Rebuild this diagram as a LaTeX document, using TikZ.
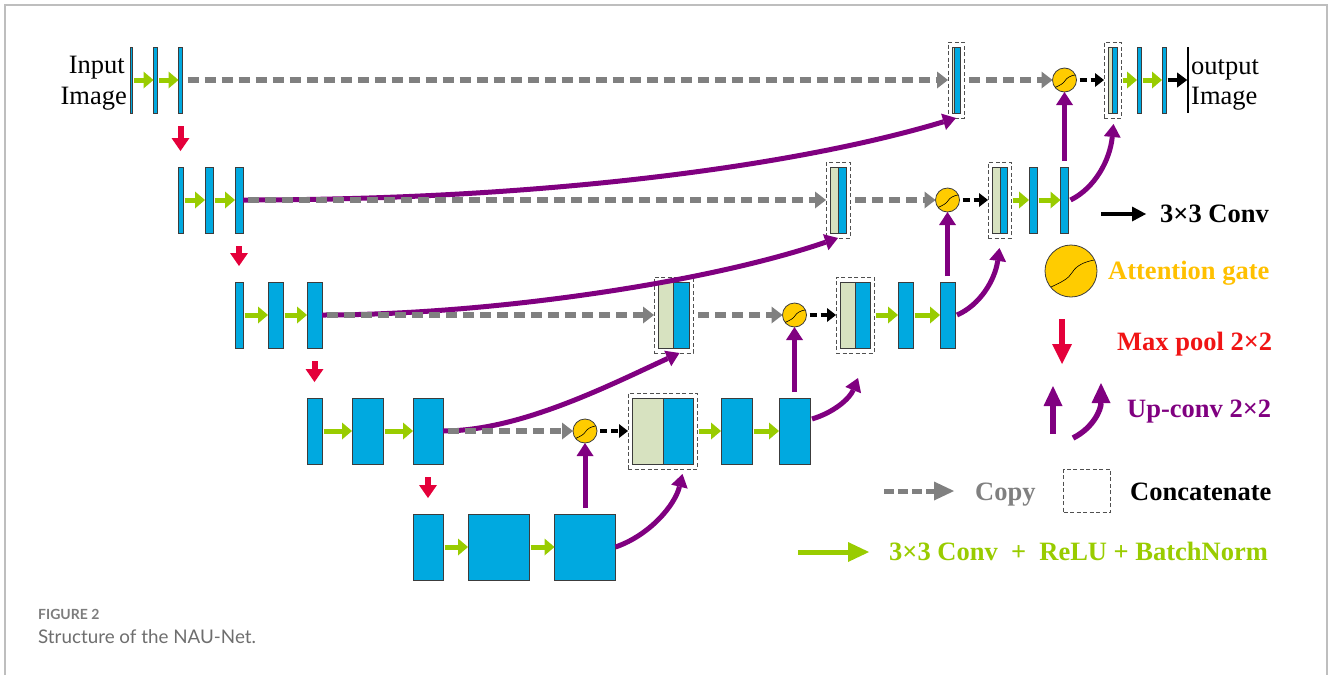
\documentclass[tikz,border=0pt]{standalone}
\usepackage{fontspec}
\setmainfont{Liberation Serif}
\newfontfamily\capfont{Lato}
\usetikzlibrary{arrows.meta,calc}
\definecolor{ublue}{RGB}{0,169,224}
\definecolor{lgreen}{RGB}{215,226,192}
\definecolor{blkline}{RGB}{60,60,60}
\definecolor{agreen}{RGB}{153,204,0}
\definecolor{agrey}{RGB}{128,128,128}
\definecolor{apurple}{RGB}{128,0,128}
\definecolor{ared}{RGB}{228,0,58}
\definecolor{tred}{RGB}{240,20,20}
\definecolor{gatey}{RGB}{255,204,0}
\definecolor{goldt}{RGB}{255,192,0}
\definecolor{dashc}{RGB}{80,80,80}
\definecolor{framec}{RGB}{190,190,190}
\definecolor{capg}{RGB}{125,125,125}
\definecolor{capg2}{RGB}{110,110,110}
\newcommand\concatblk[5]{%
  \node[catbox, minimum width={#4-#2+8}] (#1) at ({(#2+#4)/2},#5) {};
  \draw[catpart, fill=lgreen] (#2,#5-33) rectangle (#3,#5+33);
  \draw[catpart, fill=ublue] (#3,#5-33) rectangle (#4,#5+33);
}
\newcommand\attgate[4]{%
  \node[gatec, minimum size=2*#4] (#1) at (#2,#3) {};
  \draw[line width=0.6pt] ($(#1)+(-0.78*#4,0.62*#4)$) .. controls ($(#1)+(-0.35*#4,0.42*#4)$) and ($(#1)+(-0.1*#4,0.3*#4)$) .. ($(#1)+(0.05*#4,0.05*#4)$) .. controls ($(#1)+(0.2*#4,-0.2*#4)$) and ($(#1)+(0.5*#4,-0.35*#4)$) .. ($(#1)+(0.88*#4,-0.42*#4)$);
}
\begin{document}
\begin{tikzpicture}[x=1pt,y=-1pt,
  blk/.style={draw=blkline, fill=ublue, line width=0.9pt, inner sep=0pt, outer sep=0pt, minimum height=66},
  catbox/.style={draw=dashc, dash pattern=on 4pt off 2.5pt, line width=0.9pt, inner sep=0pt, outer sep=0pt, minimum height=76},
  catpart/.style={draw=blkline, line width=0.9pt},
  gatec/.style={circle, draw=blkline, fill=gatey, line width=0.8pt, inner sep=0pt, outer sep=0pt},
  garr/.style={draw=agreen, line width=5pt, -{Triangle[length=10pt,width=17pt,line width=0pt]}, shorten <=1.5pt},
  grarr/.style={draw=agrey, line width=5.5pt, dash pattern=on 11pt off 6pt, -{Triangle[length=11pt,width=17pt,line width=0pt]}},
  karr/.style={draw=black, line width=4pt, dash pattern=on 7pt off 4pt, -{Triangle[length=9pt,width=14pt,line width=0pt]}},
  parr/.style={draw=apurple, line width=5pt, -{Triangle[length=13pt,width=17pt,line width=0pt]}},
  parrL/.style={draw=apurple, line width=5.5pt, -{Triangle[length=20pt,width=19pt,line width=0pt]}},
  rarr/.style={draw=ared, line width=6pt, -{Triangle[length=13pt,width=18pt,line width=0pt]}},
  ltxt/.style={inner sep=0pt, font=\bfseries\fontsize{26.5}{30}\selectfont},
  txt/.style={inner sep=0pt, font=\fontsize{26.5}{30}\selectfont}]
\useasboundingbox (0,0) rectangle (1330,675);
\draw[framec, line width=1.5pt] (5,675) -- (5,5) -- (1327,5) -- (1327,675);

% encoder blocks
\node[blk, minimum width=2.5] (L1a) at (131.5,80) {};
\node[blk, minimum width=4] (L1b) at (155.5,80) {};
\node[blk, minimum width=4] (L1c) at (180.5,80) {};
\node[blk, minimum width=5] (L2a) at (180.5,200) {};
\node[blk, minimum width=8] (L2b) at (209,200) {};
\node[blk, minimum width=8] (L2c) at (239,200) {};
\node[blk, minimum width=8] (L3a) at (239,315) {};
\node[blk, minimum width=15] (L3b) at (275.5,315) {};
\node[blk, minimum width=15] (L3c) at (314.5,315) {};
\node[blk, minimum width=15] (L4a) at (314.5,431) {};
\node[blk, minimum width=31] (L4b) at (367.5,431) {};
\node[blk, minimum width=30] (L4c) at (428,431) {};
\node[blk, minimum width=30] (L5a) at (428,547) {};
\node[blk, minimum width=61] (L5b) at (498.5,547) {};
\node[blk, minimum width=61] (L5c) at (585,547) {};

% decoder
\concatblk{C4}{632}{663}{693}{431}
\node[blk, minimum width=31] (D4a) at (736.5,431) {};
\node[blk, minimum width=31] (D4b) at (794.5,431) {};
\attgate{G4}{585}{431}{12}
\concatblk{S3}{658}{673}{689}{315}
\attgate{G3}{794.5}{315}{12}
\concatblk{C3}{840}{855}{870}{315}
\node[blk, minimum width=15] (D3a) at (905.5,315) {};
\node[blk, minimum width=15] (D3b) at (947.5,315) {};
\concatblk{S2}{830}{838}{846}{200}
\attgate{G2}{947.5}{200}{12}
\concatblk{C2}{992}{1000}{1007}{200}
\node[blk, minimum width=8] (D2a) at (1033,200) {};
\node[blk, minimum width=8] (D2b) at (1064.5,200) {};
\concatblk{S1}{952}{954.5}{960}{80}
\attgate{G1}{1064.5}{80}{12}
\concatblk{C1}{1108}{1112.5}{1117}{80}
\node[blk, minimum width=4] (D1a) at (1139,80) {};
\node[blk, minimum width=4] (D1b) at (1164,80) {};
\node[fill=black, inner sep=0pt, outer sep=0pt, minimum width=1.6, minimum height=66] (OUT) at (1188,80) {};

% purple skip curves
\draw[parr] (L2c.east) .. controls (550,200) and (800,165) .. (S1.south);
\draw[parr] (L3c.east) .. controls (480,315) and (700,285) .. (S2.south);
\draw[parr] (L4c.east) .. controls (520,431) and (610,385) .. ($(S3.south)+(6,0)$);
\draw[parr] (L5c.east) .. controls (650,535) and (675,505) .. ($(C4.south)+(20,5)$);
\draw[parr] ($(D4b.east)+(2,-12)$) .. controls (835,412) and (850,398) .. ($(C3.south)+(3,25)$);
\draw[parr] ($(D3b.east)+(2,0)$) .. controls (980,305) and (995,280) .. ($(C2.south)+(0,10)$);
\draw[parr] ($(D2b.east)+(2,0)$) .. controls (1095,188) and (1110,160) .. ($(C1.south)+(1,6)$);
\foreach \a/\b in {L5c/G4, D4b/G3, D3b/G2, D2b/G1}
  \draw[parr, shorten <=6pt] (\a.north) -- (\b.south);

% grey copies
\foreach \a/\b in {L1c/S1, S1/G1, L2c/S2, S2/G2, L3c/S3, S3/G3, L4c/G4}
  \draw[grarr, shorten <=5pt] (\a.east) -- (\b.west);
% black dashed
\foreach \a/\b in {G4/C4, G3/C3, G2/C2, G1/C1}
  \draw[karr, shorten <=3pt] (\a.east) -- (\b.west);
% green
\foreach \a/\b in {L1a/L1b, L1b/L1c, L2a/L2b, L2b/L2c, L3a/L3b, L3b/L3c, L4a/L4b, L4b/L4c, L5a/L5b, L5b/L5c, C4/D4a, D4a/D4b, C3/D3a, D3a/D3b, C2/D2a, D2a/D2b, C1/D1a, D1a/D1b}
  \draw[garr] (\a.east) -- (\b.west);
\draw[draw=black, line width=4pt, -{Triangle[length=10pt,width=15pt,line width=0pt]}, shorten <=1.5pt] (D1b.east) -- (OUT.west);
% red
\foreach \a/\b in {L1c/L2a, L2c/L3a, L3c/L4a, L4c/L5a}
  \draw[rarr, shorten <=13pt, shorten >=16pt] (\a.south) -- (\b.north);

% texts
\node[txt, anchor=base east] (tIn1) at (125,73) {Input};
\node[txt, anchor=base east] (tIn2) at (127,104) {Image};
\node[txt, anchor=base west] (tOut1) at (1191,74) {output};
\node[txt, anchor=base west] (tOut2) at (1191,104) {Image};

% legend
\coordinate (k1a) at (1101,214); \coordinate (k1b) at (1146,214);
\draw[draw=black, line width=4pt, -{Triangle[length=14pt,width=15pt,line width=0pt]}] (k1a) -- (k1b);
\node[ltxt, anchor=base west] (t1) at (1160,222) {3×3 Conv};
\attgate{LG}{1071}{271}{26}
\node[ltxt, text=goldt, anchor=base west] (t2) at (1108,279) {Attention gate};
\coordinate (k3a) at (1062,319); \coordinate (k3b) at (1062,364);
\draw[draw=ared, line width=6pt, -{Triangle[length=20pt,width=20pt,line width=0pt]}] (k3a) -- (k3b);
\node[ltxt, text=tred, anchor=base west] (t3) at (1117,350) {Max pool 2×2};
\coordinate (k4a) at (1053,434); \coordinate (k4b) at (1053,386);
\draw[parrL] (k4a) -- (k4b);
\coordinate (k5a) at (1073,438); \coordinate (k5b) at (1101,383);
\draw[parrL] (k5a) .. controls (1093,428) and (1101,410) .. (k5b);
\node[ltxt, text=apurple, anchor=base west] (t4) at (1127,417) {Up-conv 2×2};
\coordinate (k6a) at (884,491); \coordinate (k6b) at (954,491);
\draw[draw=agrey, line width=5pt, dash pattern=on 10pt off 4pt, -{Triangle[length=20pt,width=19pt,line width=0pt]}] (k6a) -- (k6b);
\node[ltxt, text=agrey, anchor=base west] (t5) at (975,500) {Copy};
\node[catbox, minimum width=47, minimum height=43] (kbox) at (1087,490.5) {};
\node[ltxt, anchor=base west] (t6) at (1130,500) {Concatenate};
\coordinate (k7a) at (798,552); \coordinate (k7b) at (869,552);
\draw[draw=agreen, line width=5pt, -{Triangle[length=21pt,width=20pt,line width=0pt]}] (k7a) -- (k7b);
\node[ltxt, text=agreen, anchor=base west] (t7) at (889,560) {3×3 Conv\ \ +\ \ ReLU + BatchNorm};

% caption
\node[anchor=base west, inner sep=0pt, text=capg, font=\capfont\bfseries\fontsize{14}{16}\selectfont] (cap1) at (38,619) {FIGURE 2};
\node[anchor=base west, inner sep=0pt, text=capg2, font=\capfont\fontsize{18.8}{22}\selectfont] (cap2) at (38,643) {Structure of the NAU-Net.};
\end{tikzpicture}
\end{document}
